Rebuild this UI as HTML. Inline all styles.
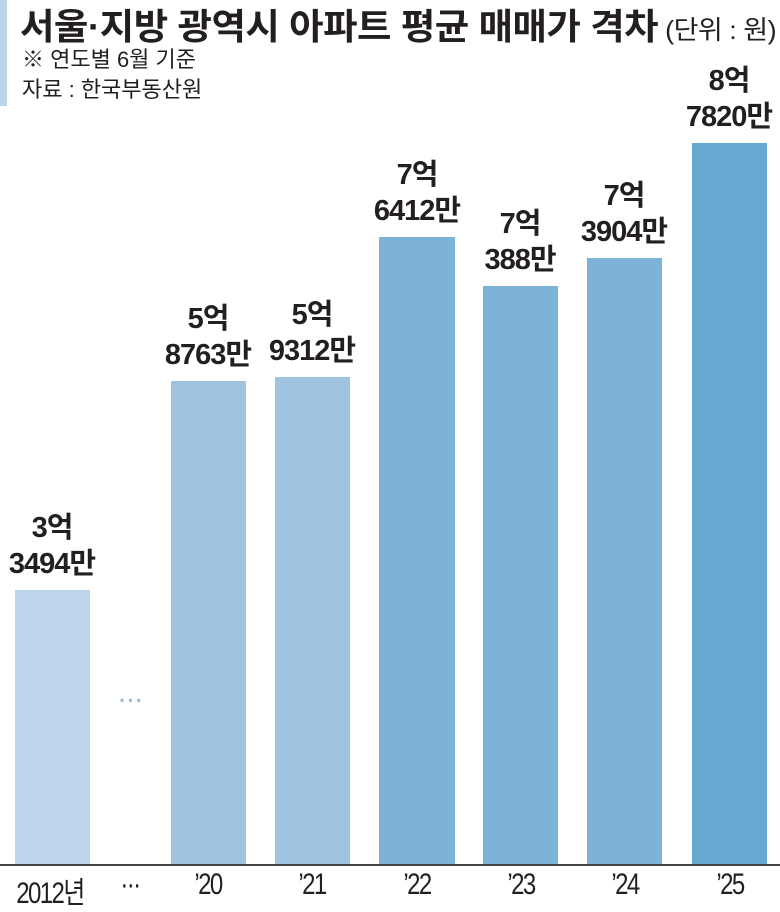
<!DOCTYPE html>
<html><head><meta charset="utf-8"><style>
body{margin:0;width:780px;height:910px;background:#fff;position:relative;overflow:hidden;font-family:"Liberation Sans","Noto Sans CJK KR",sans-serif;color:#231f20}
.abs{position:absolute}
.bar{position:absolute;bottom:45px}
.lab{position:absolute;width:140px;text-align:center;font-weight:bold;font-size:29px;line-height:36px;letter-spacing:-1px;transform:scaleX(1)}
.x{position:absolute;top:868px;width:100px;text-align:center;font-size:30px;letter-spacing:-2px;transform:scaleX(0.8)}
</style></head><body>
<div class="abs" style="left:0;top:0;width:7px;height:106px;background:#bcd5ea"></div>
<div class="abs" style="left:20px;top:-2px;font-size:36px;font-weight:bold;letter-spacing:-0.5px;white-space:nowrap;transform:scaleX(1.04);transform-origin:left">서울·지방 광역시 아파트 평균 매매가 격차<span style="font-size:26px;font-weight:normal"> (단위 : 원)</span></div>
<div class="abs" style="left:22px;top:42px;font-size:22px;white-space:nowrap">※ 연도별 6월 기준</div>
<div class="abs" style="left:22px;top:72px;font-size:22px;white-space:nowrap">자료 : 한국부동산원</div>

<div class="bar" style="left:15px;width:75px;top:590px;background:#bcd5ea"></div>
<div class="bar" style="left:171px;width:75px;top:381px;background:#a0c4df"></div>
<div class="bar" style="left:275px;width:75px;top:377px;background:#a0c4df"></div>
<div class="bar" style="left:379px;width:76px;top:237px;background:#7db3d7"></div>
<div class="bar" style="left:483px;width:75px;top:286px;background:#7db3d7"></div>
<div class="bar" style="left:587px;width:75px;top:258px;background:#7db3d7"></div>
<div class="bar" style="left:692px;width:75px;top:143px;background:#66a9d0"></div>
<div class="abs" style="left:0;top:864px;width:780px;height:2px;background:#444"></div>
<div class="abs" style="left:119px;top:688px;font-size:22px;color:#9fbfdc;font-weight:bold;letter-spacing:1px">···</div>

<div class="lab" style="left:-18px;top:510px">3억<br>3494만</div>
<div class="lab" style="left:138px;top:301px">5억<br>8763만</div>
<div class="lab" style="left:242px;top:297px">5억<br>9312만</div>
<div class="lab" style="left:347px;top:157px">7억<br>6412만</div>
<div class="lab" style="left:450px;top:206px">7억<br>388만</div>
<div class="lab" style="left:554px;top:178px">7억<br>3904만</div>
<div class="lab" style="left:659px;top:63px">8억<br>7820만</div>

<div class="x" style="left:0px">2012년</div>
<div class="x" style="left:80px">···</div>
<div class="x" style="left:158px">’20</div>
<div class="x" style="left:262px">’21</div>
<div class="x" style="left:367px">’22</div>
<div class="x" style="left:471px">’23</div>
<div class="x" style="left:575px">’24</div>
<div class="x" style="left:680px">’25</div>
</body></html>
